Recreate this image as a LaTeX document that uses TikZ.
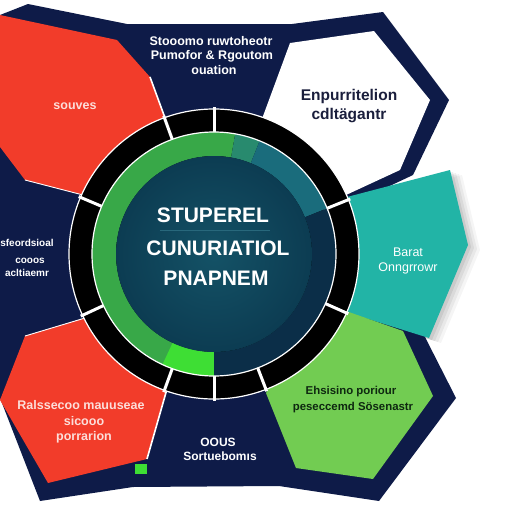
\documentclass[tikz,border=0pt]{standalone}
\usepackage{fontspec}
\setmainfont{Liberation Sans}
\definecolor{navy}{RGB}{14,27,72}
\definecolor{redA}{RGB}{242,60,42}
\definecolor{tealA}{RGB}{34,180,166}
\definecolor{greenA}{RGB}{114,204,82}
\definecolor{ringgreen}{RGB}{56,168,72}
\definecolor{ringbright}{RGB}{62,222,52}
\definecolor{ringmid}{RGB}{40,138,110}
\definecolor{ringteal}{RGB}{26,108,124}
\definecolor{ringdark}{RGB}{11,46,72}
\definecolor{discin}{RGB}{20,82,102}
\definecolor{discout}{RGB}{12,60,82}
\definecolor{hextext}{RGB}{26,30,60}
\definecolor{greentext}{RGB}{14,40,16}
\definecolor{pinkish}{RGB}{252,222,218}
\definecolor{discline}{RGB}{40,104,124}
\newcommand{\fsz}[1]{\fontsize{#1}{#1}\selectfont}
\begin{document}
\begin{tikzpicture}[x=1pt,y=-1pt,
  lab/.style={anchor=base,inner sep=0pt},
  sepline/.style={white,line width=3pt},
  edgeline/.style={white,line width=1.6pt},
  thinedge/.style={white,line width=0.9pt}]
\useasboundingbox (0,0) rectangle (512,512);
\clip (0,0) rectangle (512,512);
\fill[white] (0,0) rectangle (512,512);
% soft shadow of teal shape
\foreach \dx/\dy/\op in {3/2/0.07,6/3/0.06,9/4/0.05,12/5/0.04}{
  \fill[black,opacity=\op,shift={(\dx,\dy)}] (347,197) -- (450,170) -- (468,245) -- (429,338) -- (349,313) -- (300,255) -- cycle;}
% navy base
\fill[navy] (0,15) -- (28,4) -- (127,24) -- (292,24) -- (383,12) -- (449,100) -- (413,175) -- (360,200) -- (426,339) -- (456,398) -- (379,501) -- (279,486) -- (133,487) -- (40,501) -- (0,398) -- cycle;
% top-left red
\fill[redA] (0,15) -- (117,40) -- (150,77) -- (172,137) -- (83,195) -- (25,180) -- (0,147) -- cycle;
\draw[edgeline] (150,77) -- (172,137);
\draw[thinedge] (25,180) -- (83,195);
% white hexagon
\fill[white] (290,43) -- (374,31) -- (430,100) -- (400,170) -- (346,195) -- (300,200) -- (259,127) -- cycle;
% teal
\fill[tealA] (347,197) -- (450,170) -- (468,245) -- (429,338) -- (349,313) -- (300,255) -- cycle;
% green hexagon
\fill[greenA] (346,311) -- (403,331) -- (433,396) -- (373,479) -- (296,468) -- (266,393) -- (300,330) -- cycle;
% bottom-left red
\fill[redA] (0,400) -- (25,336) -- (85,318) -- (150,330) -- (167,389) -- (147,459) -- (48,483) -- cycle;
\draw[edgeline] (167,389) -- (147,459);
\draw[thinedge] (25,336) -- (85,318);
\fill[ringbright] (135,464) rectangle (147,474);
% ring
\begin{scope}[shift={(214,254)},yscale=-1]
  \fill[black] (0,0) circle (145);
  \draw[white,line width=1.2pt] (0,0) circle (145);
  \foreach \a in {90,110,157,205,250,270,291,336,22}
    \draw[sepline] (\a:119) -- (\a:147);
  \fill[ringgreen] (80:122) arc[start angle=80,end angle=270,radius=122] -- (270:98) arc[start angle=270,end angle=80,radius=98] -- cycle;
  \fill[ringbright] (245:122) arc[start angle=245,end angle=270,radius=122] -- (270:98) arc[start angle=270,end angle=245,radius=98] -- cycle;
  \fill[ringmid] (68:122) arc[start angle=68,end angle=80,radius=122] -- (80:98) arc[start angle=80,end angle=68,radius=98] -- cycle;
  \fill[ringteal] (22:122) arc[start angle=22,end angle=68,radius=122] -- (68:98) arc[start angle=68,end angle=22,radius=98] -- cycle;
  \fill[ringdark] (-90:122) arc[start angle=-90,end angle=22,radius=122] -- (22:98) arc[start angle=22,end angle=-90,radius=98] -- cycle;
  \draw[white,line width=1.2pt] (0,0) circle (122);
  \shade[inner color=discin,outer color=discout] (0,0) circle (98);
\end{scope}
\draw[discline,line width=0.8pt] (160,230) -- (270,230);
% centre text
\node[lab,white,font=\bfseries\fsz{21}] (c1) at (213,222.5) {STUPEREL};
\node[lab,white,font=\bfseries\fsz{21}] (c2) at (218,255.5) {CUNURIATIOL};
\node[lab,white,font=\bfseries\fsz{21}] (c3) at (216,285.5) {PNAPNEM};
% top text
\node[lab,white,font=\bfseries\fsz{12.5}] (t1) at (211,45.5) {Stooomo ruwtoheotr};
\node[lab,white,font=\bfseries\fsz{12.5}] (t2) at (212,59.5) {Pumofor \& Rgoutom};
\node[lab,white,font=\bfseries\fsz{12.5}] (t3) at (214,74.5) {ouation};
% white hexagon text
\node[lab,hextext,font=\bfseries\fsz{15.5}] (h1) at (349,100.5) {Enpurritelion};
\node[lab,hextext,font=\bfseries\fsz{15.5}] (h2) at (349,119) {cdltägantr};
% red top-left
\node[lab,pinkish,font=\bfseries\fsz{12.5}] (r1) at (75,109.5) {souves};
% left navy
\node[lab,white,font=\bfseries\fsz{10}] (l1) at (27,246.5) {sfeordsioal};
\node[lab,white,font=\bfseries\fsz{10}] (l2) at (30,263) {cooos};
\node[lab,white,font=\bfseries\fsz{10}] (l3) at (27,276.5) {acltiaemr};
% teal
\node[lab,white,font=\fsz{12.5}] (b1) at (408,256.5) {Barat};
\node[lab,white,font=\fsz{12.5}] (b2) at (408,271) {Onngrrowr};
% bottom-left red
\node[lab,pinkish,font=\bfseries\fsz{12.5}] (p1) at (81,409.5) {Ralssecoo mauuseae};
\node[lab,pinkish,font=\bfseries\fsz{12.5}] (p2) at (84,425.5) {sicooo};
\node[lab,pinkish,font=\bfseries\fsz{12.5}] (p3) at (84,440.5) {porrarion};
% bottom navy
\node[lab,white,font=\bfseries\fsz{12}] (o1) at (218,446.3) {OOUS};
\node[lab,white,font=\bfseries\fsz{12}] (o2) at (220,460) {Sortuebomıs};
% green hexagon text
\node[lab,greentext,font=\bfseries\fsz{11.4}] (g1) at (351,394) {Ehsisino poriour};
\node[lab,greentext,font=\bfseries\fsz{11.4}] (g2) at (353,410.5) {peseccemd Sösenastr};
\end{tikzpicture}
\end{document}
